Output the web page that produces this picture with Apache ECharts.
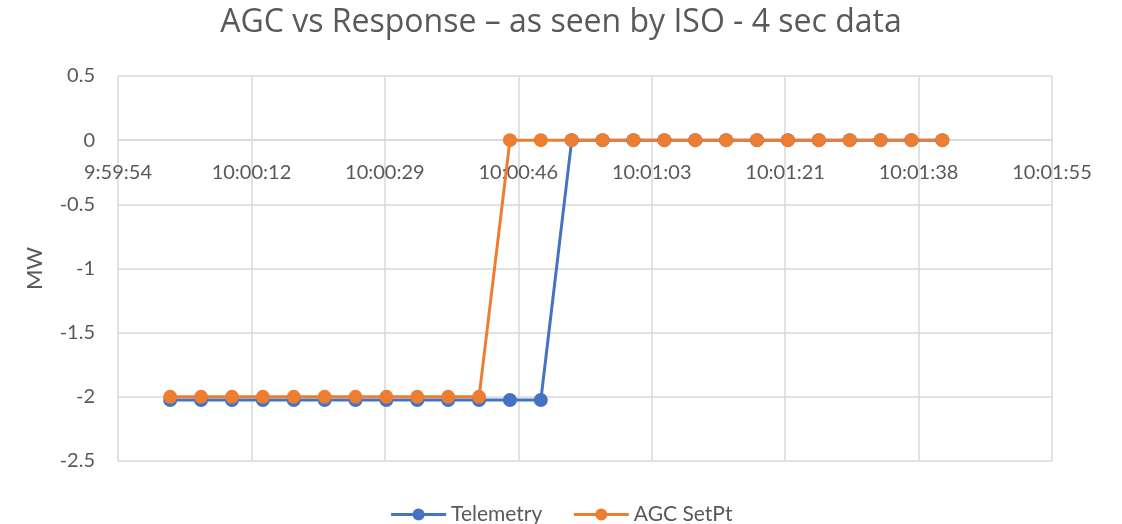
<!DOCTYPE html>
<html>
<head>
<meta charset="utf-8">
<title>AGC vs Response</title>
<script src="https://cdn.jsdelivr.net/npm/echarts@6/dist/echarts.min.js"></script>
<style>
  html, body { margin: 0; padding: 0; background: #fff; }
  #chart { width: 1122px; height: 524px; }
</style>
</head>
<body>
<div id="chart"></div>
<script>
  // sample times (4 sec data)
  var times = ['10:00:01', '10:00:05', '10:00:09', '10:00:13', '10:00:17', '10:00:21', '10:00:25',
    '10:00:29', '10:00:33', '10:00:37', '10:00:41', '10:00:45', '10:00:49', '10:00:53',
    '10:00:57', '10:01:01', '10:01:05', '10:01:09', '10:01:13', '10:01:17', '10:01:21',
    '10:01:25', '10:01:29', '10:01:33', '10:01:37', '10:01:41'];
  var telemetry = [-2.025, -2.025, -2.025, -2.025, -2.025, -2.025, -2.025, -2.025, -2.025, -2.025, -2.025, -2.025, -2.025,
    0, 0, 0, 0, 0, 0, 0, 0, 0, 0, 0, 0, 0];
  var agcSetPt = [-2, -2, -2, -2, -2, -2, -2, -2, -2, -2, -2,
    0, 0, 0, 0, 0, 0, 0, 0, 0, 0, 0, 0, 0, 0, 0];

  // axis from 9:59:54 (0.4166 day) step 17.28 sec (0.0002 day)
  var xMin = 35994.24, xMax = 36115.2, xStep = 17.28;

  function toSec(s) {
    var p = s.split(':');
    return (+p[0]) * 3600 + (+p[1]) * 60 + (+p[2]);
  }
  function fmt(v) {
    var t = Math.round(v);
    var h = Math.floor(t / 3600), m = Math.floor((t % 3600) / 60), s = t % 60;
    return h + ':' + (m < 10 ? '0' : '') + m + ':' + (s < 10 ? '0' : '') + s;
  }
  function pairs(vals) {
    var out = [];
    for (var i = 0; i < vals.length; i++) out.push([toSec(times[i]), vals[i]]);
    return out;
  }

  var gray = '#595959', gridCol = '#d9d9d9';
  var font = 'Lato, "Open Sans", sans-serif';

  var gridTop = 76, gridBottom = 63, chartH = 524;
  var yMin = -2.5, yMax = 0.5;
  // move the x axis up to the y = 0 line (labels too, like Excel)
  var plotH = chartH - gridTop - gridBottom;
  var zeroOffset = -plotH * (0 - yMin) / (yMax - yMin);

  var myChart = echarts.init(document.getElementById('chart'));
  var option = {
    animation: false,
    title: {
      text: 'AGC vs Response \u2013 as seen by ISO - 4 sec data',
      left: 'center',
      top: 2,
      textStyle: { color: gray, fontSize: 32, fontWeight: 'normal', fontFamily: '"Open Sans", Lato, sans-serif' }
    },
    legend: {
      top: 499,
      left: 'center',
      itemWidth: 55,
      itemHeight: 15,
      itemGap: 30,
      lineStyle: { width: 3 },
      textStyle: { color: gray, fontSize: 21, fontFamily: font },
      data: ['Telemetry', 'AGC SetPt']
    },
    grid: { left: 118, right: 70, top: gridTop, bottom: gridBottom },
    xAxis: {
      type: 'value',
      min: xMin,
      max: xMax,
      interval: xStep,
      offset: zeroOffset,
      axisLine: { onZero: false, lineStyle: { color: gridCol, width: 1.5 } },
      axisTick: { show: false },
      axisLabel: {
        color: gray, fontSize: 20, fontFamily: font, margin: 22,
        showMinLabel: true, showMaxLabel: true,
        formatter: fmt
      },
      splitLine: { show: true, lineStyle: { color: gridCol, width: 1.5 } }
    },
    yAxis: {
      type: 'value',
      min: yMin,
      max: yMax,
      interval: 0.5,
      name: 'MW',
      nameLocation: 'middle',
      nameGap: 72,
      nameTextStyle: { color: gray, fontSize: 22, fontFamily: font },
      axisLine: { show: false },
      axisTick: { show: false },
      axisLabel: { color: gray, fontSize: 20, fontFamily: font, margin: 23 },
      splitLine: { lineStyle: { color: gridCol, width: 1.5 } }
    },
    series: [{
      name: 'Telemetry',
      type: 'line',
      data: pairs(telemetry),
      symbol: 'circle',
      symbolSize: 14,
      showAllSymbol: true,
      lineStyle: { color: '#4472C4', width: 3 },
      itemStyle: { color: '#4472C4' }
    }, {
      name: 'AGC SetPt',
      type: 'line',
      data: pairs(agcSetPt),
      symbol: 'circle',
      symbolSize: 14,
      showAllSymbol: true,
      lineStyle: { color: '#ED7D31', width: 3 },
      itemStyle: { color: '#ED7D31' }
    }]
  };
  myChart.setOption(option);
</script>
</body>
</html>
